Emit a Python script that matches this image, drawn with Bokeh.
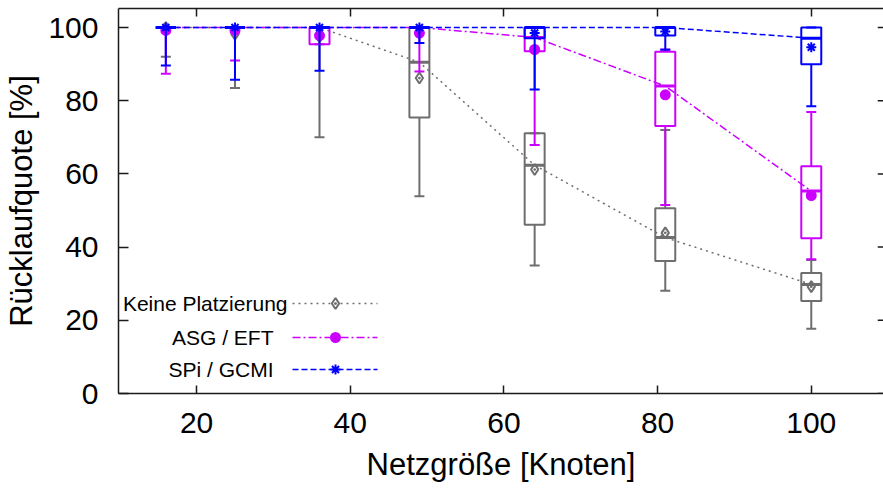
import numpy as np
from bokeh.plotting import figure
from bokeh.models import Range1d, LinearAxis, FixedTicker, Label
from bokeh.embed import file_html
from bokeh.resources import INLINE

# ---------------- data ----------------
netz = [16, 25, 36, 49, 64, 81, 100]

# Keine Platzierung
kp_low  = [92.0, 83.5, 70.0, 53.9, 35.0, 28.1, 17.7]
kp_q1   = [100.0, 100.0, 100.0, 75.4, 46.1, 36.2, 25.3]
kp_med  = [100.0, 100.0, 100.0, 90.5, 62.4, 42.6, 29.8]
kp_q3   = [100.0, 100.0, 100.0, 100.0, 71.1, 50.6, 32.9]
kp_high = [100.0, 100.0, 100.0, 100.0, 71.1, 72.0, 36.5]
kp_mean = [100.0, 98.2, 97.5, 86.2, 61.2, 43.9, 29.2]

# ASG / EFT
asg_low  = [87.4, 91.0, 95.4, 88.0, 67.9, 51.5, 36.7]
asg_q1   = [100.0, 100.0, 95.4, 100.0, 93.5, 73.1, 42.4]
asg_med  = [100.0, 100.0, 100.0, 100.0, 97.3, 84.0, 55.3]
asg_q3   = [100.0, 100.0, 100.0, 100.0, 100.0, 93.4, 62.1]
asg_high = [100.0, 100.0, 100.0, 100.0, 100.0, 94.0, 76.9]
asg_mean = [99.2, 99.2, 97.8, 98.5, 94.0, 81.6, 54.1]

# SPi / GCMI
spi_low  = [89.6, 85.7, 88.2, 95.8, 83.1, 93.9, 78.5]
spi_q1   = [100.0, 100.0, 100.0, 100.0, 97.1, 97.8, 90.0]
spi_med  = [100.0, 100.0, 100.0, 100.0, 100.0, 100.0, 97.1]
spi_q3   = [100.0, 100.0, 100.0, 100.0, 100.0, 100.0, 100.0]
spi_high = [100.0, 100.0, 100.0, 100.0, 100.0, 100.0, 100.0]
spi_mean = [100.0, 100.0, 100.0, 100.0, 98.5, 98.9, 94.6]

labels = ["Keine Platzierung", "ASG / EFT", "SPi / GCMI"]
x_ticks = [20, 40, 60, 80, 100]
y_ticks = [0, 20, 40, 60, 80, 100]

# ---------------- layout / style ----------------
W, H = 883, 489
FRAME_L, FRAME_R, FRAME_T, FRAME_B = 118, 883, 8, 393
X0, X1 = 9.84, 109.4
Y0, Y1 = 0.0, 105.2
BOX_W = 2.6      # data units (~20 px)
CAP_HALF = 0.65  # data units (~5 px)
RTICK = 0.75     # right-edge tick length, data units
FONT = "Liberation Sans"

GRAY = "#6e6e6e"
MAG = "#cc00ff"
BLUE = "#0000ff"
AX_COL = "#1a1a1a"

p = figure(frame_width=FRAME_R - FRAME_L, frame_height=FRAME_B - FRAME_T,
           x_range=Range1d(X0, X1), y_range=Range1d(Y0, Y1),
           toolbar_location=None, output_backend="svg",
           min_border_left=FRAME_L, min_border_right=0,
           min_border_top=FRAME_T, min_border_bottom=H - FRAME_B,
           x_axis_location=None, y_axis_location=None)
p.outline_line_color = None
p.xgrid.visible = False
p.ygrid.visible = False
p.background_fill_color = "white"
p.border_fill_color = "white"

xa = LinearAxis(ticker=FixedTicker(ticks=x_ticks), axis_label="Netzgröße [Knoten]")
xa.major_tick_in = 8
xa.major_tick_out = 0
xa.minor_tick_line_color = None
xa.major_label_standoff = 19
xa.major_label_text_font = FONT
xa.major_label_text_font_size = "30px"
xa.major_label_text_color = "black"
xa.axis_label_text_font = FONT
xa.axis_label_text_font_size = "31px"
xa.axis_label_text_font_style = "normal"
xa.axis_label_text_color = "black"
xa.axis_label_standoff = 11
xa.axis_line_width = 1.5
xa.axis_line_color = AX_COL
xa.major_tick_line_width = 1.5
xa.major_tick_line_color = AX_COL
p.add_layout(xa, "below")

ya = LinearAxis(ticker=FixedTicker(ticks=y_ticks), axis_label="Rücklaufquote [%]")
ya.major_tick_in = 10
ya.major_tick_out = 0
ya.minor_tick_line_color = None
ya.major_label_standoff = 20
ya.major_label_text_font = FONT
ya.major_label_text_font_size = "30px"
ya.major_label_text_color = "black"
ya.axis_label_text_font = FONT
ya.axis_label_text_font_size = "31px"
ya.axis_label_text_font_style = "normal"
ya.axis_label_text_color = "black"
ya.axis_label_standoff = 6
ya.axis_line_width = 1.5
ya.axis_line_color = AX_COL
ya.major_tick_line_width = 1.5
ya.major_tick_line_color = AX_COL
p.add_layout(ya, "left")

ta = LinearAxis(ticker=FixedTicker(ticks=x_ticks))
ta.major_tick_in = 8
ta.major_tick_out = 0
ta.minor_tick_line_color = None
ta.major_label_text_color = None
ta.major_label_standoff = 0
ta.axis_line_width = 1.5
ta.axis_line_color = AX_COL
ta.major_tick_line_width = 1.5
ta.major_tick_line_color = AX_COL
p.add_layout(ta, "above")

# right-edge mirror ticks (frame edge lies at the window border)
yt = np.array(y_ticks, dtype=float)
p.segment(x0=np.full(len(yt), X1 - RTICK), y0=yt, x1=np.full(len(yt), X1), y1=yt,
          line_color=AX_COL, line_width=1.5)

x = np.array(netz, dtype=float)


def draw_series(low, q1, med, q3, high, mean, color, dash, marker, msize, mfill):
    low, q1, med, q3, high = map(np.array, (low, q1, med, q3, high))
    # whiskers
    p.segment(x0=x, y0=low, x1=x, y1=q1, line_color=color, line_width=2)
    p.segment(x0=x, y0=q3, x1=x, y1=high, line_color=color, line_width=2)
    p.segment(x0=x - CAP_HALF, y0=low, x1=x + CAP_HALF, y1=low, line_color=color, line_width=2)
    p.segment(x0=x - CAP_HALF, y0=high, x1=x + CAP_HALF, y1=high, line_color=color, line_width=2)
    # boxes
    p.vbar(x=x, width=BOX_W, bottom=q1, top=q3, fill_color=None, line_color=color, line_width=2)
    # median
    p.segment(x0=x - BOX_W / 2, y0=med, x1=x + BOX_W / 2, y1=med, line_color=color, line_width=3)
    # connecting line
    p.line(x, med, line_color=color, line_width=1.5, line_dash=dash)
    # mean markers
    p.scatter(x, mean, marker=marker, size=msize, line_color=color,
              fill_color=(color if mfill else None), line_width=2)


draw_series(kp_low, kp_q1, kp_med, kp_q3, kp_high, kp_mean, GRAY, "2 4", "diamond_dot", 11, False)
draw_series(asg_low, asg_q1, asg_med, asg_q3, asg_high, asg_mean, MAG, "8 3 2 3", "circle", 9, True)
draw_series(spi_low, spi_q1, spi_med, spi_q3, spi_high, spi_mean, BLUE, "6 3", "asterisk", 10, False)

# ---------------- legend (manual, label left of sample) ----------------
XS = (X1 - X0) / (FRAME_R - FRAME_L)
YS = (Y1 - Y0) / (FRAME_B - FRAME_T)


def dx(px):
    return X0 + (px - FRAME_L) * XS


def dy(py):
    return Y0 + (FRAME_B - py) * YS


leg_rows = [303, 337, 369]
leg_text_right = [287, 273, 273]
leg_line = (292, 377)
leg_mark = 335
styles = [(GRAY, "2 4", "diamond_dot", 11, False),
          (MAG, "8 3 2 3", "circle", 9, True),
          (BLUE, "6 3", "asterisk", 10, False)]
for lab, row, tr, st in zip(labels, leg_rows, leg_text_right, styles):
    col, dash, mk, ms, mf = st
    p.add_layout(Label(x=dx(tr), y=dy(row), text=lab, text_align="right",
                       text_baseline="middle", text_font=FONT, text_font_size="21px",
                       text_color="black"))
    p.line([dx(leg_line[0]), dx(leg_line[1])], [dy(row), dy(row)], line_color=col,
           line_width=1.5, line_dash=dash)
    p.scatter([dx(leg_mark)], [dy(row)], marker=mk, size=ms, line_color=col,
              fill_color=(col if mf else None), line_width=2)

open("out.html", "w").write(file_html(p, INLINE))
